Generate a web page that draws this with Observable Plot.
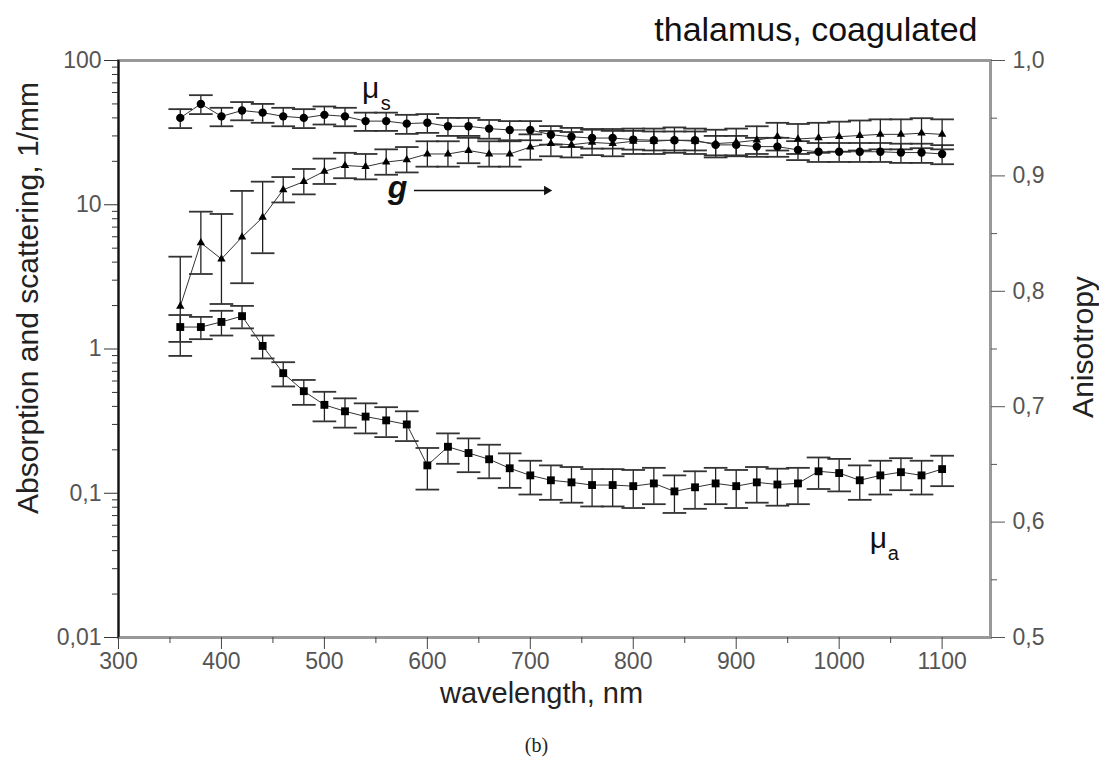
<!DOCTYPE html>
<html>
<head>
<meta charset="utf-8">
<script src="https://cdn.jsdelivr.net/npm/d3@7"></script>
<script src="https://cdn.jsdelivr.net/npm/@observablehq/plot@0.6"></script>
<style>
  html, body { margin: 0; padding: 0; background: #fff; }
  #chart { width: 1099px; height: 759px; }
</style>
</head>
<body>
<div id="chart"></div>
<script>
// ---------- data ----------
const wavelength = [360,380,400,420,440,460,480,500,520,540,560,580,600,620,640,660,680,700,720,740,
                    760,780,800,820,840,860,880,900,920,940,960,980,1000,1020,1040,1060,1080,1100];

// scattering coefficient mu_s, 1/mm
const muS = [40,50,41,45,43.5,41,40,42,41,38,38,36.5,37,35,35,33.7,33,33,30.6,29.6,
             29,29,28.3,28,28,28,26,26,25.3,25.3,24,23.3,23.3,23.3,23.3,23,23,22.5];
const muSErr = [6,7.5,6,6.5,6.5,6,6,6,6,5.5,5.5,5.5,5.5,5,5,5,5,5,4.5,4.5,
                4.5,4.5,4.2,4.2,4.2,4.2,4,4,3.8,3.8,3.6,3.5,3.5,3.5,3.5,3.5,3.5,3.4];

// absorption coefficient mu_a, 1/mm
const muA = [1.42,1.42,1.54,1.69,1.05,0.68,0.51,0.41,0.37,0.34,0.32,0.30,0.156,0.21,0.19,0.172,0.149,0.133,0.123,0.119,
             0.114,0.114,0.112,0.117,0.103,0.110,0.117,0.112,0.119,0.115,0.117,0.142,0.138,0.123,0.133,0.140,0.133,0.147];
const muAErr = [0.3,0.25,0.3,0.3,0.19,0.13,0.1,0.095,0.085,0.08,0.075,0.07,0.05,0.05,0.05,0.045,0.04,0.035,0.033,0.033,
                0.033,0.033,0.033,0.033,0.03,0.032,0.033,0.033,0.033,0.033,0.033,0.035,0.035,0.033,0.035,0.035,0.035,0.035];

// anisotropy g (right axis)
const g = [0.787,0.842,0.828,0.847,0.864,0.888,0.895,0.904,0.909,0.908,0.912,0.914,0.919,0.919,0.922,0.919,0.919,0.925,0.928,0.927,
           0.929,0.928,0.930,0.930,0.931,0.930,0.928,0.929,0.931,0.934,0.932,0.933,0.934,0.935,0.936,0.936,0.937,0.936];
const gErr = [0.043,0.027,0.039,0.040,0.031,0.011,0.011,0.011,0.011,0.011,0.011,0.011,0.011,0.011,0.011,0.011,0.011,0.011,0.011,0.011,
              0.011,0.011,0.011,0.011,0.011,0.011,0.012,0.012,0.012,0.012,0.013,0.013,0.013,0.013,0.013,0.013,0.013,0.013];

// axes
const xTicks = [300,400,500,600,700,800,900,1000,1100];
const xMinor = [350,450,550,650,750,850,950,1050];
const yTicks = [0.01,0.1,1,10,100];
const yTickLabels = ["0,01","0,1","1","10","100"];
const yMinor = [0.02,0.03,0.04,0.05,0.06,0.07,0.08,0.09,0.2,0.3,0.4,0.5,0.6,0.7,0.8,0.9,
                2,3,4,5,6,7,8,9,20,30,40,50,60,70,80,90];
const gTicks = [0.5,0.6,0.7,0.8,0.9,1.0];
const gTickLabels = ["0,5","0,6","0,7","0,8","0,9","1,0"];
const gMinor = [0.55,0.65,0.75,0.85,0.95];

// annotations (data units)
const notes = [
  {w: 545, v: 54.6, main: "μ", sub: "s"},
  {w: 1038, v: 0.0414, main: "μ", sub: "a"}
];
const gNote = [{w: 571, v: 11.05, text: "g"}];
const gArrow = [{w1: 587, w2: 716, v: 12.56}];

// ---------- helpers ----------
// map anisotropy (0.5..1.0) onto the left log axis (0.01..100)
const gToY = v => Math.pow(10, -2 + (v - 0.5) * 8);
const capNm = 11.5;

const rowsS = wavelength.map((w, i) => ({w, v: muS[i], lo: muS[i] - muSErr[i], hi: muS[i] + muSErr[i]}));
const rowsA = wavelength.map((w, i) => ({w, v: muA[i], lo: muA[i] - muAErr[i], hi: muA[i] + muAErr[i]}));
const rowsG = wavelength.map((w, i) => ({w, v: gToY(g[i]), lo: gToY(g[i] - gErr[i]), hi: gToY(g[i] + gErr[i])}));
const gTickRows = gTicks.map((t, i) => ({y: gToY(t), label: gTickLabels[i]}));

const errMarks = (rows) => [
  Plot.ruleX(rows, {x: "w", y1: "lo", y2: "hi", stroke: "#222", strokeWidth: 1.3}),
  Plot.link(rows, {x1: d => d.w - capNm, x2: d => d.w + capNm, y1: "hi", y2: "hi", stroke: "#333", strokeWidth: 1.8}),
  Plot.link(rows, {x1: d => d.w - capNm, x2: d => d.w + capNm, y1: "lo", y2: "lo", stroke: "#333", strokeWidth: 1.8})
];

const font = "Liberation Sans, Arial, Helvetica, sans-serif";

const chart = Plot.plot({
  width: 1099,
  height: 759,
  marginTop: 60,
  marginBottom: 122,
  marginLeft: 118,
  marginRight: 109,
  style: {fontFamily: font, background: "#fff"},
  x: {domain: [300, 1147]},
  y: {type: "log", domain: [0.01, 100]},
  marks: [
    Plot.frame({stroke: "#999", strokeWidth: 3}),
    Plot.ruleX([300], {stroke: "#111", strokeWidth: 2}),

    // axes
    Plot.axisX({ticks: xTicks, tickSize: 12, tickPadding: 3, fontSize: 23, fill: "#555", stroke: "#444",
                tickFormat: d => String(d), label: null}),
    Plot.axisX({ticks: xMinor, tickSize: 6, stroke: "#444", tickFormat: () => "", label: null}),
    Plot.axisY({ticks: yTicks, anchor: "left", tickSize: 14, tickPadding: 3, fontSize: 23, fill: "#555", stroke: "#333",
                tickFormat: d => yTickLabels[yTicks.indexOf(d)], label: null}),
    Plot.axisY({ticks: yMinor, anchor: "left", tickSize: 6, stroke: "#333", tickFormat: () => "", label: null}),
    Plot.axisY({ticks: gTicks.map(gToY), anchor: "right", tickSize: 14, stroke: "#555", tickFormat: () => "", label: null}),
    Plot.axisY({ticks: gMinor.map(gToY), anchor: "right", tickSize: 6, stroke: "#555", tickFormat: () => "", label: null}),
    Plot.text(gTickRows, {y: "y", text: "label", frameAnchor: "right", textAnchor: "start", lineAnchor: "middle",
                dx: 22, fontSize: 23, fill: "#555"}),

    // error bars
    ...errMarks(rowsS),
    ...errMarks(rowsG),
    ...errMarks(rowsA),

    // connecting lines
    Plot.line(rowsS, {x: "w", y: "v", stroke: "#333", strokeWidth: 1}),
    Plot.line(rowsG, {x: "w", y: "v", stroke: "#333", strokeWidth: 1}),
    Plot.line(rowsA, {x: "w", y: "v", stroke: "#333", strokeWidth: 1}),

    // symbols
    Plot.dot(rowsS, {x: "w", y: "v", r: 4.2, fill: "#000", stroke: "none"}),
    Plot.dot(rowsG, {x: "w", y: "v", r: 4, symbol: "triangle2", fill: "#000", stroke: "none"}),
    Plot.dot(rowsA, {x: "w", y: "v", r: 5, symbol: "square2", fill: "#000", stroke: "none"}),

    // annotations
    Plot.text(notes, {x: "w", y: "v", text: "main", fontSize: 30, lineAnchor: "bottom", fill: "#111"}),
    Plot.text(notes, {x: "w", y: "v", text: "sub", fontSize: 20, lineAnchor: "bottom", fill: "#111",
                      dx: 15, dy: 12}),
    Plot.text(gNote, {x: "w", y: "v", text: "text", fontSize: 32, fontStyle: "italic", fontWeight: "bold",
                      lineAnchor: "bottom", fill: "#111"}),
    Plot.link(gArrow, {x1: "w1", x2: "w2", y1: "v", y2: "v", stroke: "#111", strokeWidth: 1.6}),
    Plot.dot(gArrow, {x: "w2", y: "v", symbol: "triangle2", rotate: 90, r: 4.5, fill: "#111", stroke: "none"}),

    // titles and labels
    Plot.text(["thalamus, coagulated"], {frameAnchor: "top-right", textAnchor: "end", lineAnchor: "bottom",
                dx: -13, dy: -20, fontSize: 34, fill: "#111"}),
    Plot.text(["Absorption and scattering, 1/mm"], {frameAnchor: "left", rotate: -90, textAnchor: "middle",
                lineAnchor: "middle", dx: -90, dy: -51, fontSize: 30, fill: "#222"}),
    Plot.text(["Anisotropy"], {frameAnchor: "right", rotate: -90, textAnchor: "middle",
                lineAnchor: "middle", dx: 93, dy: -2, fontSize: 30, fill: "#222"}),
    Plot.text(["wavelength, nm"], {frameAnchor: "bottom", textAnchor: "middle", lineAnchor: "middle",
                dx: -13, dy: 56, fontSize: 29, fill: "#222"}),
    Plot.text(["(b)"], {frameAnchor: "bottom", textAnchor: "middle", lineAnchor: "middle",
                dx: -18, dy: 108, fontSize: 20, fontFamily: "Liberation Serif, Times New Roman, serif", fill: "#222"})
  ]
});

document.getElementById("chart").appendChild(chart);
</script>
</body>
</html>
